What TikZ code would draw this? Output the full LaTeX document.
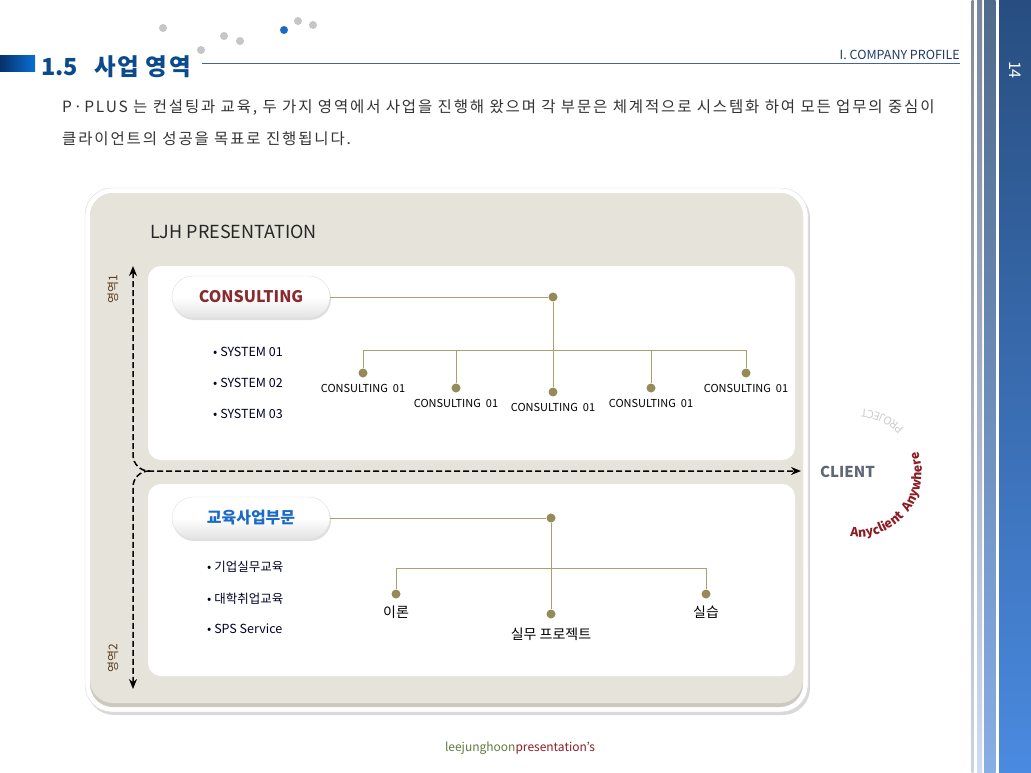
\documentclass[tikz,border=0pt]{standalone}
\usepackage{fontspec}
\setmainfont{Noto Sans CJK KR}
\newfontfamily\bodyfont{Noto Sans CJK KR}[LetterSpace=12]
\newfontfamily\headfont{Noto Sans CJK KR}[LetterSpace=7]
\usetikzlibrary{arrows.meta,shadows,decorations.text}
\definecolor{navy}{HTML}{0B4A8C}
\definecolor{beige}{HTML}{E6E4DA}
\definecolor{olive}{HTML}{A9A070}
\definecolor{dotc}{HTML}{958A5A}
\definecolor{wine}{HTML}{8C1C24}
\definecolor{consred}{HTML}{8B2A2E}
\definecolor{edublue}{HTML}{1A6AC8}
\definecolor{zonec}{HTML}{5A3C1E}

\begin{document}
\begin{tikzpicture}[x=1pt,y=-1pt]

\tikzset{
  dot/.style = {circle, fill=dotc, inner sep=0pt, minimum size=9pt},
  greydot/.style = {circle, fill=gray!45, inner sep=0pt, minimum size=8pt},
  link/.style = {draw=olive, line width=1pt},
  flow/.style = {line width=1.5pt, dash pattern=on 6pt off 3pt, rounded corners=16},
  pill/.style = {rounded corners=21, minimum width=158pt, minimum height=42pt,
    top color=white, bottom color=gray!22, middle color=white, draw=gray!25,
    drop shadow={opacity=0.25, shadow xshift=1pt, shadow yshift=-2pt}},
  panel/.style = {fill=white, rounded corners=13},
  leaf/.style = {font=\fontsize{11}{12}\selectfont, anchor=north, inner sep=1pt},
  item/.style = {anchor=west, text=black!85!blue, inner sep=0pt},
  stripe/.style = {draw=none}
}

\useasboundingbox (0,0) rectangle (1031,773);
\fill[white] (0,0) rectangle (1031,773);

\shade[stripe, top color={rgb,255:red,128;green,138;blue,154}, bottom color={rgb,255:red,200;green,212;blue,232}] (971.7,0) rectangle (973.7,773);
\shade[stripe, top color={rgb,255:red,120;green,134;blue,156}, bottom color={rgb,255:red,208;green,220;blue,240}] (977,0) rectangle (982,773);
\shade[stripe, top color={rgb,255:red,80;green,106;blue,138}, bottom color={rgb,255:red,136;green,174;blue,230}] (984,0) rectangle (995.7,773);
\shade[stripe, top color={rgb,255:red,40;green,78;blue,128}, bottom color={rgb,255:red,74;green,138;blue,224}] (999,0) rectangle (1031,773);
\node[rotate=-90, text=white, font=\fontsize{16}{17}\selectfont] (page) at (1015,70) {14};

\shade[left color={rgb,255:red,8;green,48;blue,110}, right color={rgb,255:red,8;green,112;blue,208}] (0,56) rectangle (35,72);
\node[anchor=west, text=navy, font=\fontsize{23.5}{26}\bfseries\selectfont, inner sep=0pt] (title) at (41,67) {1.5\hspace{16pt}{\headfont 사업 영역}};
\foreach \px/\py in {163/28, 201/50, 224/36, 240/41, 298/21, 313/25}
  \node[greydot] at (\px,\py) {};
\node[greydot, fill=edublue] (bluedot) at (284,30) {};
\coordinate (ruleA) at (202,64);
\coordinate (ruleB) at (960,64);
\draw[draw={rgb,255:red,72;green,100;blue,150}, line width=1pt] (ruleA) -- (ruleB);
\node[anchor=south east, inner sep=0pt, text={rgb,255:red,31;green,58;blue,106}, font=\fontsize{12.5}{14}\selectfont] (chap) at (960,60) {I. COMPANY\ PROFILE};

\node[anchor=west, inner sep=0pt, text=black!80, font=\bodyfont\fontsize{15.5}{17}\selectfont] (para1) at (62,108) {P·PLUS 는 컨설팅과 교육, 두 가지 영역에서 사업을 진행해 왔으며 각 부문은 체계적으로 시스템화 하여 모든 업무의 중심이};
\node[anchor=west, inner sep=0pt, text=black!80, font=\bodyfont\fontsize{15.5}{17}\selectfont] (para2) at (62,139) {클라이언트의 성공을 목표로 진행됩니다.};

\fill[white, rounded corners=27, drop shadow={opacity=0.3, shadow xshift=2pt, shadow yshift=-3pt}] (85,188) rectangle (808,712);
\draw[gray!30, rounded corners=27] (85,188) rectangle (808,712);
\shade[rounded corners=23, top color=beige, bottom color=beige!88!black, middle color=beige] (90,193) rectangle (803,707);
\fill[beige, rounded corners=23] (90,193) rectangle (803,703);

\node[anchor=west, inner sep=0pt, font=\fontsize{18}{20}\selectfont, text=black!85] (ljh) at (150,232) {LJH PRESENTATION};

\fill[panel] (148,266) rectangle (795,460);
\fill[panel] (148,484) rectangle (795,676);

\coordinate (arrTop) at (133,266);
\coordinate (arrRight) at (801,471);
\coordinate (arrBot) at (133,689);
\coordinate (arrJoin) at (150,471);
\draw[flow, {Stealth[length=10pt,width=8pt]}-{Stealth[length=10pt,width=8pt]}] (arrTop) |- (arrRight);
\draw[flow, -{Stealth[length=10pt,width=8pt]}] (arrJoin) -| (arrBot);
\node[rotate=90, font=\fontsize{12}{14}\selectfont, text=zonec] (zone1) at (113,289) {영역1};
\node[rotate=90, font=\fontsize{12}{14}\selectfont, text=zonec] (zone2) at (113,658) {영역2};

\node[pill, text=consred, font=\fontsize{16}{18}\bfseries\selectfont] (cons) at (251,297) {CONSULTING};
\node[dot] (c0) at (553,297) {};
\coordinate (cbar) at (553,350);
\foreach \i/\cx/\cy in {1/363/373, 2/456/388, 3/553/392, 4/651/388, 5/746/373} {
  \node[dot] (c\i) at (\cx,\cy) {};
  \node[leaf] (cl\i) at (\cx,\cy+10) {CONSULTING\ \ 01};
}
\draw[link] (cons) -- (c0);
\draw[link] (c0) -- (c3);
\draw[link] (c1 |- cbar) -- (c5 |- cbar);
\foreach \i in {1,2,4,5}
  \draw[link] (c\i |- cbar) -- (c\i);
\foreach \s/\sy in {1/352, 2/383, 3/414}
  \node[item, font=\fontsize{12.5}{14}\selectfont] (sys\s) at (213,\sy) {• SYSTEM 0\s};

\node[pill, text=edublue, font=\fontsize{16}{18}\bfseries\selectfont] (edu) at (251,518) {교육사업부문};
\node[dot] (e0) at (551,518) {};
\coordinate (ebar) at (551,568);
\node[dot] (e1) at (396,594) {};
\node[dot] (e2) at (551,614) {};
\node[dot] (e3) at (706,594) {};
\node[font=\fontsize{14}{16}\selectfont, anchor=north] (el1) at (396,602) {이론};
\node[font=\fontsize{14}{16}\selectfont, anchor=north] (el2) at (551,624) {실무 프로젝트};
\node[font=\fontsize{14}{16}\selectfont, anchor=north] (el3) at (706,602) {실습};
\draw[link] (edu) -- (e0);
\draw[link] (e0) -- (e2);
\draw[link] (e1 |- ebar) -- (e3 |- ebar);
\draw[link] (e1 |- ebar) -- (e1);
\draw[link] (e3 |- ebar) -- (e3);
\node[item, font=\fontsize{12.5}{14}\selectfont] (edu1) at (207,567) {• 기업실무교육};
\node[item, font=\fontsize{12.5}{14}\selectfont] (edu2) at (207,599) {• 대학취업교육};
\node[item, font=\fontsize{12.5}{14}\selectfont] (edu3) at (207,629) {• SPS Service};

\node[anchor=west, inner sep=0pt, text={rgb,255:red,95;green,103;blue,118}, font=\fontsize{15}{17}\bfseries\selectfont] (client) at (820,472) {CLIENT};

\begin{scope}[shift={(858,473)}, x=1pt, y=1pt]
\path[decorate, decoration={text along path, text={|\fontsize{12.5}{14}\bfseries\selectfont\color{wine}|Anyclient\ \ Anywhere}}] (-97:64) arc[start angle=-97, end angle=40, radius=64];
\path[decorate, decoration={text along path, text={|\fontsize{11}{12}\selectfont\color{gray!40}|PROJECT}}] (44:64) arc[start angle=44, end angle=100, radius=64];
\end{scope}

\node[font=\fontsize{12}{14}\selectfont, inner sep=0pt] (footer) at (520,748) {\textcolor{olive!80!green!70!black}{leejunghoon}\textcolor{wine}{presentation’s}};

\end{tikzpicture}
\end{document}
